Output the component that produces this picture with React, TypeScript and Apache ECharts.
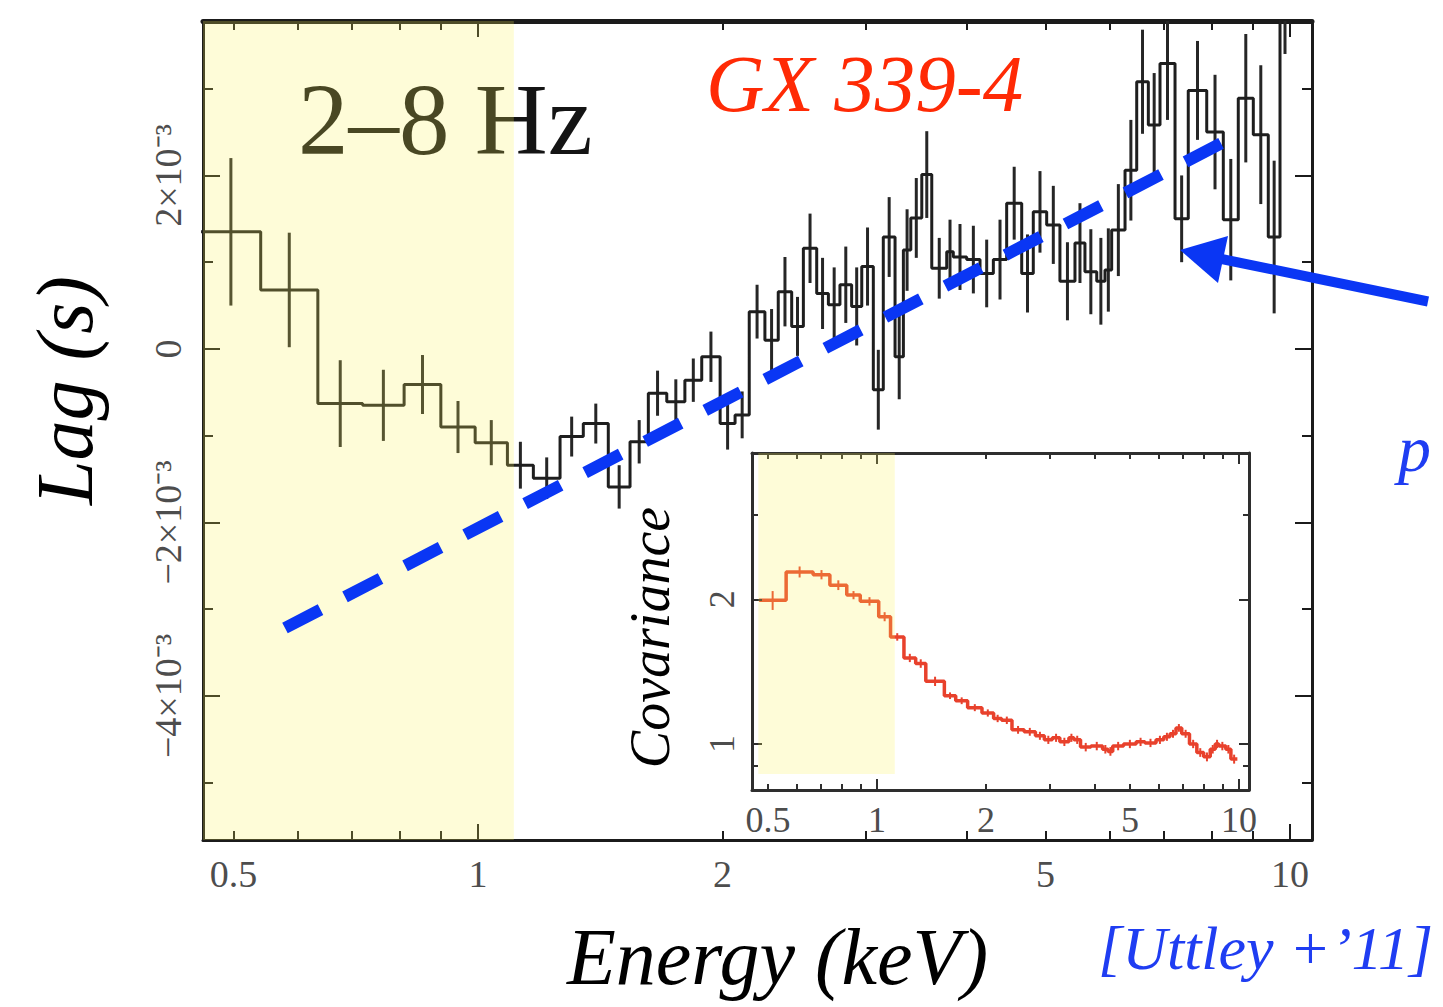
import React, { useEffect, useRef } from "react";
import * as echarts from "echarts";

// ---------------- Main panel: 2–8 Hz lag–energy spectrum of GX 339-4 ----------------
const lagBinEdgesKeV = [
  0.456, 0.54, 0.635, 0.721, 0.811, 0.9, 0.992, 1.087, 1.17, 1.262, 1.348, 1.447, 1.539,
  1.621, 1.708, 1.798, 1.886, 1.987, 2.073, 2.158, 2.256, 2.343, 2.434, 2.516, 2.613,
  2.701, 2.791, 2.885, 2.969, 3.068, 3.156, 3.263, 3.341, 3.412, 3.52, 3.621, 3.778,
  3.849, 3.998, 4.152, 4.312, 4.478, 4.673, 4.829, 5.016, 5.208, 5.435, 5.591, 5.781,
  5.918, 6.031, 6.264, 6.475, 6.692, 6.917, 7.218, 7.494, 7.897, 8.277, 8.636, 9.012,
  9.403, 9.721, 10.0,
];
const lagSeconds = [
  0.00135, 0.00068, -0.00063, -0.00065, -0.00041, -0.0009, -0.00108, -0.00134, -0.00149,
  -0.00101, -0.00086, -0.00159, -0.00107, -0.00051, -0.00061, -0.00036, -0.00009,
  -0.00086, -0.00076, 0.00043, 0.0001, 0.00066, 0.00026, 0.00116, 0.00064, 0.00051,
  0.00074, 0.00049, 0.00095, -0.00047, 0.00129, -0.00009, 0.00114, 0.00151, 0.00201,
  0.00093, 0.00112, 0.00106, 0.00103, 0.00087, 0.00103, 0.00168, 0.00087, 0.00158,
  0.00143, 0.00078, 0.00122, 0.00089, 0.00078, 0.00091, 0.00137, 0.00206, 0.00308,
  0.00258, 0.00329, 0.0015, 0.00298, 0.0025, 0.00149, 0.00289, 0.00247, 0.00129, 0.0046,
];
const lagErrSeconds = [
  0.00085, 0.00066, 0.0005, 0.00041, 0.00034, 0.0003, 0.00026, 0.00027, 0.00024, 0.00023,
  0.00023, 0.00025, 0.00025, 0.00026, 0.00026, 0.00025, 0.00029, 0.0003, 0.00027, 0.00031,
  0.00036, 0.0004, 0.00034, 0.0004, 0.00041, 0.00043, 0.00044, 0.00045, 0.00045, 0.00046,
  0.00046, 0.00049, 0.00047, 0.00046, 0.0005, 0.00035, 0.00037, 0.00038, 0.00039, 0.00039,
  0.00046, 0.00042, 0.00045, 0.00047, 0.00045, 0.00045, 0.00046, 0.00049, 0.0005, 0.00048,
  0.00053, 0.00058, 0.0006, 0.0006, 0.00065, 0.0005, 0.00057, 0.00066, 0.0007, 0.00074,
  0.0008, 0.00088, 0.0012,
];
const lagYLabelValues = [-0.004, -0.002, 0, 0.002];
const lagYLabels = ["−4×10⁻³", "−2×10⁻³", "0", "2×10⁻³"];
const lagYMinorTicks = [-0.005, -0.003, -0.001, 0.001, 0.003];
const energyLabelValues = [0.5, 1, 2, 5, 10];
const energyMinorTicks = [0.5, 0.6, 0.7, 0.8, 0.9, 2, 3, 4, 5, 6, 7, 8, 9];
const energyMajorTicks = [1, 10];
const mainShadeKeV = [0.4, 1.107];
const trendKeV = [0.5785, 8.248];
const trendLag = [-0.003216, 0.002375];

// ---------------- Inset: covariance spectrum ----------------
const covBinEdgesKeV = [
  0.4725, 0.561, 0.666, 0.741, 0.825, 0.899, 1.011, 1.09, 1.187, 1.279, 1.364, 1.535, 1.65,
  1.78, 1.95, 2.1, 2.21, 2.36, 2.55, 2.74, 2.9, 3.05, 3.2, 3.39, 3.5, 3.65, 3.9, 4.2, 4.35,
  4.48, 4.8, 5.2, 5.5, 5.9, 6.2, 6.45, 6.7, 6.95, 7.3, 7.65, 7.99, 8.33, 8.6, 8.8, 9.2, 9.5,
  9.9,
];
const covValues = [
  1.99, 2.28, 2.25, 2.14, 2.04, 1.98, 1.84, 1.67, 1.51, 1.47, 1.35, 1.26, 1.23, 1.19, 1.16,
  1.13, 1.12, 1.07, 1.06, 1.04, 1.02, 1.03, 1.01, 1.03, 1.02, 0.985, 0.99, 0.975, 0.965,
  0.99, 1.0, 1.01, 1.005, 1.02, 1.035, 1.05, 1.08, 1.05, 1.0, 0.96, 0.94, 0.975, 1.0, 0.99,
  0.975, 0.93,
];
const covErrors = [
  0.09, 0.06, 0.05, 0.05, 0.04, 0.04, 0.04, 0.03, 0.03, 0.03, 0.03, 0.02, 0.02, 0.02, 0.02,
  0.02, 0.02, 0.02, 0.02, 0.02, 0.02, 0.02, 0.02, 0.02, 0.02, 0.02, 0.02, 0.02, 0.02, 0.02,
  0.02, 0.02, 0.02, 0.02, 0.02, 0.02, 0.02, 0.02, 0.02, 0.02, 0.02, 0.02, 0.02, 0.02, 0.02,
  0.02,
];
const covYLabelValues = [1, 2];
const covYMinorTicks = [0.9, 3];
const covXMajorTicks = [1, 10];
const insetShade = [0.47, 1.12, 0.866];

// ---------------- helpers ----------------
const SERIF = "'Liberation Serif', 'Times New Roman', serif";
const FRAME = "#1b1b1b";
const BLUE = "#0a36f4";
const OVERLAY = "rgba(252,243,87,0.23)";

const stepPoints = (edges: number[], vals: number[]) =>
  vals.flatMap((v, i) => [
    [edges[i], v],
    [edges[i + 1], v],
  ]);
const errorBars = (edges: number[], vals: number[], errs: number[]) =>
  vals.map((v, i) => [Math.sqrt(edges[i] * edges[i + 1]), v - errs[i], v + errs[i]]);

const errorBarItem = (color: string, width: number) => (params: any, api: any) => {
  const x = api.value(0);
  const a = api.coord([x, api.value(1)]);
  const b = api.coord([x, api.value(2)]);
  return {
    type: "line",
    shape: { x1: a[0], y1: a[1], x2: b[0], y2: b[1] },
    style: { stroke: color, lineWidth: width },
  };
};

const shadeItem = (params: any, api: any) => {
  const cs = params.coordSys;
  const x0 = Math.max(api.coord([api.value(0), api.value(2)])[0], cs.x);
  const x1 = api.coord([api.value(1), api.value(2)])[0];
  const yb = Math.min(api.coord([api.value(0), api.value(2)])[1], cs.y + cs.height);
  return {
    type: "rect",
    shape: { x: x0, y: cs.y, width: x1 - x0, height: yb - cs.y },
    style: { fill: OVERLAY },
  };
};

function frameAxis(base: any, position: string, ticks: number[], length: number, opts: any = {}) {
  return {
    ...base,
    position,
    axisLine: {
      show: opts.lineWidth !== undefined,
      onZero: false,
      lineStyle: { color: opts.lineColor || FRAME, width: opts.lineWidth || 1 },
    },
    axisTick: {
      show: true,
      inside: true,
      length,
      customValues: ticks,
      lineStyle: { color: opts.lineColor || FRAME, width: opts.tickWidth || 2 },
    },
    axisLabel: { show: false },
    splitLine: { show: false },
    minorTick: { show: false },
    ...(opts.extra || {}),
  };
}

const mainX = { type: "log", logBase: 10, gridIndex: 0, min: 0.4585, max: 10.644 };
const mainY = { type: "value", gridIndex: 0, min: -0.00566, max: 0.00378 };
const insetX = { type: "log", logBase: 10, gridIndex: 1, min: 0.4515, max: 10.66, z: 25 };
const insetY = { type: "log", logBase: 10, gridIndex: 1, min: 0.802, max: 4.03, z: 25 };

const tickLabelStyle = { fontFamily: SERIF, fontSize: 38, color: "#4d4d4d" };
const insetLabelStyle = { fontFamily: SERIF, fontSize: 36, color: "#4d4d4d" };

const option: any = {
  animation: false,
  backgroundColor: "#ffffff",
  textStyle: { fontFamily: SERIF },
  grid: [
    { left: 203, top: 21, width: 1109, height: 819, show: false },
    {
      left: 752, top: 453, width: 497, height: 337, show: true,
      backgroundColor: "#ffffff", borderWidth: 0, z: 20,
    },
  ],
  xAxis: [
    frameAxis(mainX, "bottom", [...energyMinorTicks, ...energyMajorTicks], 9, {
      lineWidth: 3,
      extra: {
        axisLabel: {
          show: true, customValues: energyLabelValues, margin: 15,
          formatter: (v: number) => String(v), ...tickLabelStyle,
        },
        name: "Energy (keV)", nameLocation: "middle", nameGap: 77,
        nameTextStyle: {
          fontFamily: SERIF, fontStyle: "italic", fontSize: 80, color: "#000",
          padding: [0, 0, 0, 40],
        },
      },
    }),
    frameAxis(mainX, "bottom", energyMajorTicks, 16),
    frameAxis(mainX, "top", [...energyMinorTicks, ...energyMajorTicks], 9, { lineWidth: 5 }),
    frameAxis(mainX, "top", energyMajorTicks, 16),
    frameAxis(insetX, "bottom", [...energyMinorTicks, ...covXMajorTicks], 6, {
      lineWidth: 3, lineColor: "#2e2e2e",
      extra: {
        axisLabel: {
          show: true, customValues: energyLabelValues, margin: 12,
          formatter: (v: number) => String(v), ...insetLabelStyle,
        },
      },
    }),
    frameAxis(insetX, "bottom", covXMajorTicks, 11, { lineColor: "#2e2e2e" }),
    frameAxis(insetX, "top", [...energyMinorTicks, ...covXMajorTicks], 6, {
      lineWidth: 3, lineColor: "#2e2e2e",
    }),
    frameAxis(insetX, "top", covXMajorTicks, 11, { lineColor: "#2e2e2e" }),
  ],
  yAxis: [
    frameAxis(mainY, "left", lagYMinorTicks, 10, {
      lineWidth: 3,
      extra: {
        axisLabel: {
          show: true, customValues: lagYLabelValues, rotate: 90, margin: 16,
          formatter: (v: number) => {
            const i = lagYLabelValues.findIndex((t) => Math.abs(t - v) < 1e-9);
            return i >= 0 ? lagYLabels[i] : "";
          },
          ...tickLabelStyle,
        },
        name: "Lag (s)", nameLocation: "middle", nameRotate: 90, nameGap: 98,
        nameTextStyle: {
          fontFamily: SERIF, fontStyle: "italic", fontSize: 80, color: "#000",
          padding: [0, 0, 0, 80],
        },
      },
    }),
    frameAxis(mainY, "left", lagYLabelValues, 17),
    frameAxis(mainY, "right", lagYMinorTicks, 10, { lineWidth: 3 }),
    frameAxis(mainY, "right", lagYLabelValues, 17),
    frameAxis(insetY, "left", covYMinorTicks, 6, {
      lineWidth: 3, lineColor: "#2e2e2e",
      extra: {
        axisLabel: {
          show: true, customValues: covYLabelValues, rotate: 90, margin: 12,
          formatter: (v: number) => String(v), ...insetLabelStyle,
        },
        name: "Covariance", nameLocation: "middle", nameRotate: 90, nameGap: 74,
        nameTextStyle: {
          fontFamily: SERIF, fontStyle: "italic", fontSize: 56, color: "#000",
          padding: [0, 32, 0, 0],
        },
      },
    }),
    frameAxis(insetY, "left", covYLabelValues, 10, { lineColor: "#2e2e2e" }),
    frameAxis(insetY, "right", covYMinorTicks, 6, { lineWidth: 3, lineColor: "#2e2e2e" }),
    frameAxis(insetY, "right", covYLabelValues, 10, { lineColor: "#2e2e2e" }),
  ],
  series: [
    {
      name: "lag",
      type: "line",
      xAxisIndex: 0,
      yAxisIndex: 0,
      data: stepPoints(lagBinEdgesKeV, lagSeconds),
      symbol: "none",
      lineStyle: { color: "#1e1e1e", width: 3 },
      z: 3,
      clip: true,
    },
    {
      name: "lag errors",
      type: "custom",
      xAxisIndex: 0,
      yAxisIndex: 0,
      data: errorBars(lagBinEdgesKeV, lagSeconds, lagErrSeconds),
      encode: { x: 0, y: [1, 2] },
      renderItem: errorBarItem("#262626", 3),
      clip: true,
      z: 3,
    },
    {
      name: "soft band",
      type: "custom",
      xAxisIndex: 0,
      yAxisIndex: 0,
      data: [[mainShadeKeV[0], mainShadeKeV[1], mainY.min]],
      encode: { x: [0, 1], y: 2 },
      renderItem: shadeItem,
      silent: true,
      z: 10,
    },
    {
      name: "trend",
      type: "line",
      xAxisIndex: 0,
      yAxisIndex: 0,
      data: trendKeV.map((e, i) => [e, trendLag[i]]),
      symbol: "none",
      lineStyle: { color: BLUE, width: 12, type: [40, 27.6], cap: "butt" },
      z: 12,
    },
    {
      name: "covariance",
      type: "line",
      xAxisIndex: 4,
      yAxisIndex: 4,
      data: stepPoints(covBinEdgesKeV, covValues),
      symbol: "none",
      lineStyle: { color: "#e8412c", width: 3.5 },
      z: 22,
      clip: true,
    },
    {
      name: "covariance errors",
      type: "custom",
      xAxisIndex: 4,
      yAxisIndex: 4,
      data: errorBars(covBinEdgesKeV, covValues, covErrors),
      encode: { x: 0, y: [1, 2] },
      renderItem: errorBarItem("#e8412c", 2),
      clip: true,
      z: 22,
    },
    {
      name: "inset soft band",
      type: "custom",
      xAxisIndex: 4,
      yAxisIndex: 4,
      data: [insetShade],
      encode: { x: [0, 1], y: 2 },
      renderItem: shadeItem,
      silent: true,
      z: 26,
    },
  ],
  graphic: [
    {
      type: "text", x: 298, y: 120, z: 1,
      style: {
        text: "2–8 Hz", fontFamily: SERIF, fontSize: 101, fill: "#141414",
        align: "left", verticalAlign: "middle",
      },
    },
    {
      type: "text", x: 706, y: 84, z: 1,
      style: {
        text: "GX 339-4", fontFamily: SERIF, fontStyle: "italic", fontSize: 81,
        fill: "#ff2a05", align: "left", verticalAlign: "middle",
      },
    },
    {
      type: "text", x: 1098, y: 948, z: 1,
      style: {
        text: "[Uttley +’11]", fontFamily: SERIF, fontStyle: "italic", fontSize: 62,
        fill: "#1f3df2", align: "left", verticalAlign: "middle",
      },
    },
    {
      type: "text", x: 1398, y: 448, z: 1,
      style: {
        text: "p", fontFamily: SERIF, fontStyle: "italic", fontSize: 66,
        fill: "#1f3df2", align: "left", verticalAlign: "middle",
      },
    },
    {
      type: "line", z: 30,
      shape: { x1: 1428, y1: 301.5, x2: 1212, y2: 257 },
      style: { stroke: BLUE, lineWidth: 10 },
    },
    {
      type: "polygon", z: 30,
      shape: { points: [[1180, 250], [1228, 236], [1218, 283]] },
      style: { fill: BLUE },
    },
  ],
};

export default function App() {
  const ref = useRef<HTMLDivElement>(null);
  useEffect(() => {
    if (!ref.current) return;
    const chart = echarts.init(ref.current, undefined, { renderer: "svg" });
    chart.setOption(option);
    return () => chart.dispose();
  }, []);
  return (
    <div
      ref={ref}
      style={{ position: "absolute", left: 0, top: 0, width: 1443, height: 1007, background: "#fff" }}
    />
  );
}
